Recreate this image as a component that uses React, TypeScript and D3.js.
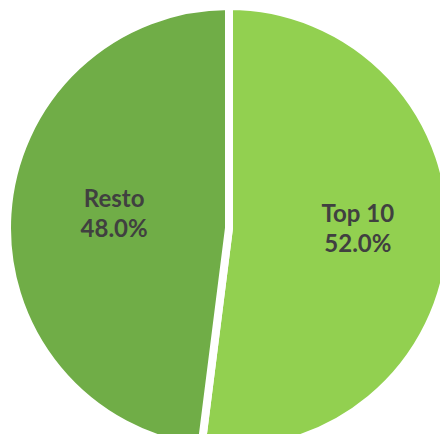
import React from 'react';
import { useRef, useEffect } from 'react';
import * as d3 from 'd3';

const categories = ['Top 10', 'Resto'];
const shares = [52.0, 48.0];
const colors = ['#92D050', '#70AD47'];

export default function App() {
  const svgRef = useRef<SVGSVGElement>(null);

  useEffect(() => {
    const w = 440;
    const h = 434;
    const cx = 229;
    const cy = 228;
    const radius = 222;

    const svg = d3.select(svgRef.current);
    svg.selectAll('*').remove();
    svg.attr('width', w).attr('height', h);

    const pie = d3.pie<number>().sort(null).value((d) => d);
    const slices = pie(shares);
    const arc: any = d3.arc().innerRadius(0).outerRadius(radius);
    const labelArc: any = d3.arc().innerRadius(radius * 0.55).outerRadius(radius * 0.55);

    const g = svg.append('g').attr('transform', `translate(${cx},${cy})`);

    g.selectAll('path')
      .data(slices)
      .join('path')
      .attr('d', arc)
      .attr('fill', (d, i) => colors[i])
      .attr('stroke', '#ffffff')
      .attr('stroke-width', 8)
      .attr('stroke-linejoin', 'round');

    // labels (nudged like excel places them)
    const labels = g
      .selectAll('text')
      .data(slices)
      .join('text')
      .attr('transform', (d) => {
        const [x, y] = labelArc.centroid(d);
        return `translate(${x + 7},${y - 10})`;
      })
      .attr('text-anchor', 'middle')
      .style('font-family', 'Lato, "Open Sans", sans-serif')
      .style('font-weight', 'bold')
      .style('font-size', '24px')
      .style('fill', '#404040');

    labels
      .append('tspan')
      .attr('x', 0)
      .attr('dy', '-0.15em')
      .text((d, i) => categories[i]);
    labels
      .append('tspan')
      .attr('x', 0)
      .attr('dy', '1.25em')
      .text((d, i) => shares[i].toFixed(1) + '%');
  }, []);

  return (
    <svg
      ref={svgRef}
      style={{ position: 'absolute', left: 0, top: 0, display: 'block' }}
    ></svg>
  );
}
